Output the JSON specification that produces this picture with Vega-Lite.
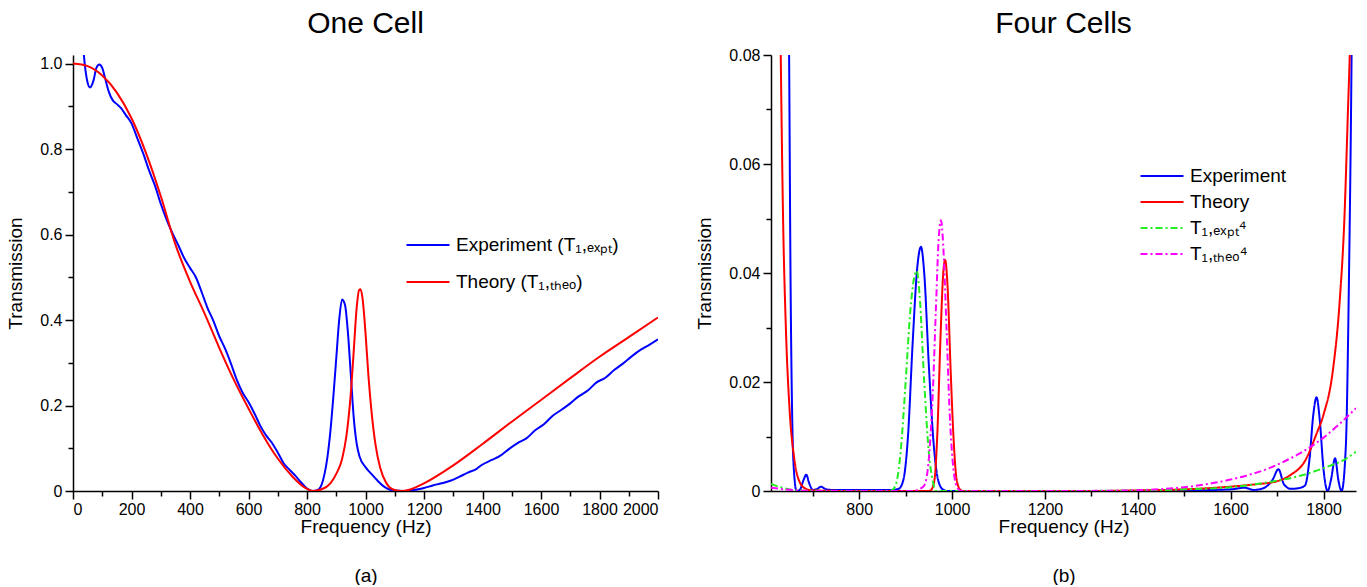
{
  "$schema": "https://vega.github.io/schema/vega-lite/v6.json",
  "padding": {"left": 6, "top": 9, "right": 5, "bottom": 0},
  "background": "white",
  "config": {
    "font": "Liberation Sans",
    "view": {"stroke": null},
    "axis": {
      "grid": false,
      "domainColor": "black",
      "domainWidth": 1.5,
      "tickColor": "black",
      "tickWidth": 1.5,
      "labelFont": "Liberation Sans",
      "labelFontSize": 16,
      "labelColor": "black",
      "labelOverlap": false,
      "titleFont": "Liberation Sans",
      "titleFontSize": 19,
      "titleFontWeight": "normal",
      "titleColor": "black"
    },
    "legend": {
      "labelFont": "Liberation Sans",
      "labelFontSize": 19,
      "labelColor": "black",
      "labelLimit": 400,
      "labelOffset": 16,
      "symbolType": "M-2,0H2",
      "symbolSize": 462,
      "symbolStrokeWidth": 2,
      "padding": 0
    },
    "title": {"font": "Liberation Sans", "fontSize": 30, "fontWeight": "normal", "color": "black", "anchor": "middle", "frame": "group"}
  },
  "datasets": {
    "left": [
      {"f":30,"T":1.08,"s":"E"},{"f":40,"T":1.0,"s":"E"},{"f":50,"T":0.955,"s":"E"},{"f":58,"T":0.944,"s":"E"},{"f":70,"T":0.96,"s":"E"},{"f":80,"T":0.99,"s":"E"},{"f":90,"T":0.998,"s":"E"},{"f":100,"T":0.99,"s":"E"},{"f":110,"T":0.965,"s":"E"},{"f":122,"T":0.935,"s":"E"},{"f":135,"T":0.915,"s":"E"},{"f":150,"T":0.905,"s":"E"},{"f":165,"T":0.895,"s":"E"},{"f":180,"T":0.88,"s":"E"},{"f":200,"T":0.86,"s":"E"},{"f":220,"T":0.825,"s":"E"},{"f":240,"T":0.79,"s":"E"},{"f":260,"T":0.75,"s":"E"},{"f":280,"T":0.715,"s":"E"},{"f":300,"T":0.672,"s":"E"},{"f":320,"T":0.635,"s":"E"},{"f":340,"T":0.603,"s":"E"},{"f":360,"T":0.575,"s":"E"},{"f":380,"T":0.545,"s":"E"},{"f":400,"T":0.522,"s":"E"},{"f":420,"T":0.5,"s":"E"},{"f":440,"T":0.465,"s":"E"},{"f":460,"T":0.428,"s":"E"},{"f":480,"T":0.398,"s":"E"},{"f":500,"T":0.362,"s":"E"},{"f":520,"T":0.333,"s":"E"},{"f":540,"T":0.298,"s":"E"},{"f":560,"T":0.26,"s":"E"},{"f":580,"T":0.23,"s":"E"},{"f":600,"T":0.208,"s":"E"},{"f":620,"T":0.182,"s":"E"},{"f":640,"T":0.153,"s":"E"},{"f":660,"T":0.13,"s":"E"},{"f":680,"T":0.113,"s":"E"},{"f":700,"T":0.09,"s":"E"},{"f":720,"T":0.065,"s":"E"},{"f":740,"T":0.05,"s":"E"},{"f":760,"T":0.036,"s":"E"},{"f":780,"T":0.02,"s":"E"},{"f":800,"T":0.006,"s":"E"},{"f":820,"T":0.0,"s":"E"},{"f":840,"T":0.004,"s":"E"},{"f":850,"T":0.015,"s":"E"},{"f":860,"T":0.04,"s":"E"},{"f":870,"T":0.08,"s":"E"},{"f":880,"T":0.14,"s":"E"},{"f":890,"T":0.22,"s":"E"},{"f":900,"T":0.31,"s":"E"},{"f":910,"T":0.4,"s":"E"},{"f":920,"T":0.448,"s":"E"},{"f":930,"T":0.435,"s":"E"},{"f":940,"T":0.37,"s":"E"},{"f":950,"T":0.27,"s":"E"},{"f":960,"T":0.17,"s":"E"},{"f":970,"T":0.11,"s":"E"},{"f":980,"T":0.08,"s":"E"},{"f":1000,"T":0.056,"s":"E"},{"f":1020,"T":0.04,"s":"E"},{"f":1040,"T":0.025,"s":"E"},{"f":1060,"T":0.012,"s":"E"},{"f":1080,"T":0.004,"s":"E"},{"f":1100,"T":0.001,"s":"E"},{"f":1130,"T":0.0,"s":"E"},{"f":1150,"T":0.001,"s":"E"},{"f":1180,"T":0.004,"s":"E"},{"f":1200,"T":0.007,"s":"E"},{"f":1230,"T":0.013,"s":"E"},{"f":1260,"T":0.018,"s":"E"},{"f":1290,"T":0.024,"s":"E"},{"f":1320,"T":0.033,"s":"E"},{"f":1350,"T":0.043,"s":"E"},{"f":1380,"T":0.052,"s":"E"},{"f":1400,"T":0.062,"s":"E"},{"f":1430,"T":0.072,"s":"E"},{"f":1460,"T":0.082,"s":"E"},{"f":1490,"T":0.098,"s":"E"},{"f":1520,"T":0.112,"s":"E"},{"f":1550,"T":0.123,"s":"E"},{"f":1580,"T":0.142,"s":"E"},{"f":1610,"T":0.156,"s":"E"},{"f":1640,"T":0.176,"s":"E"},{"f":1670,"T":0.19,"s":"E"},{"f":1700,"T":0.205,"s":"E"},{"f":1730,"T":0.222,"s":"E"},{"f":1760,"T":0.235,"s":"E"},{"f":1790,"T":0.254,"s":"E"},{"f":1820,"T":0.265,"s":"E"},{"f":1850,"T":0.283,"s":"E"},{"f":1880,"T":0.298,"s":"E"},{"f":1910,"T":0.315,"s":"E"},{"f":1940,"T":0.33,"s":"E"},{"f":1970,"T":0.342,"s":"E"},{"f":2000,"T":0.355,"s":"E"},
      {"f":0,"T":1.0,"s":"T"},{"f":50,"T":0.994,"s":"T"},{"f":100,"T":0.972,"s":"T"},{"f":150,"T":0.932,"s":"T"},{"f":200,"T":0.872,"s":"T"},{"f":250,"T":0.79,"s":"T"},{"f":300,"T":0.69,"s":"T"},{"f":350,"T":0.577,"s":"T"},{"f":400,"T":0.49,"s":"T"},{"f":450,"T":0.415,"s":"T"},{"f":500,"T":0.335,"s":"T"},{"f":550,"T":0.26,"s":"T"},{"f":600,"T":0.193,"s":"T"},{"f":650,"T":0.13,"s":"T"},{"f":700,"T":0.076,"s":"T"},{"f":750,"T":0.034,"s":"T"},{"f":790,"T":0.009,"s":"T"},{"f":820,"T":0.0,"s":"T"},{"f":850,"T":0.004,"s":"T"},{"f":880,"T":0.018,"s":"T"},{"f":900,"T":0.04,"s":"T"},{"f":920,"T":0.075,"s":"T"},{"f":935,"T":0.13,"s":"T"},{"f":950,"T":0.23,"s":"T"},{"f":960,"T":0.33,"s":"T"},{"f":970,"T":0.43,"s":"T"},{"f":978,"T":0.47,"s":"T"},{"f":983,"T":0.472,"s":"T"},{"f":990,"T":0.45,"s":"T"},{"f":1000,"T":0.37,"s":"T"},{"f":1010,"T":0.27,"s":"T"},{"f":1020,"T":0.19,"s":"T"},{"f":1035,"T":0.105,"s":"T"},{"f":1050,"T":0.055,"s":"T"},{"f":1070,"T":0.02,"s":"T"},{"f":1090,"T":0.005,"s":"T"},{"f":1120,"T":0.0,"s":"T"},{"f":1150,"T":0.003,"s":"T"},{"f":1200,"T":0.018,"s":"T"},{"f":1300,"T":0.06,"s":"T"},{"f":1400,"T":0.11,"s":"T"},{"f":1500,"T":0.162,"s":"T"},{"f":1600,"T":0.213,"s":"T"},{"f":1700,"T":0.264,"s":"T"},{"f":1800,"T":0.314,"s":"T"},{"f":1900,"T":0.36,"s":"T"},{"f":2000,"T":0.406,"s":"T"}
    ],
    "right": [
      {"f":645,"T":0.12,"s":"E"},{"f":649,"T":0.08,"s":"E"},{"f":652,"T":0.04,"s":"E"},{"f":656,"T":0.012,"s":"E"},{"f":660,"T":0.003,"s":"E"},{"f":665,"T":0.0,"s":"E"},{"f":672,"T":0.0002,"s":"E"},{"f":680,"T":0.002,"s":"E"},{"f":686,"T":0.003,"s":"E"},{"f":692,"T":0.0015,"s":"E"},{"f":700,"T":0.0002,"s":"E"},{"f":710,"T":0.0004,"s":"E"},{"f":718,"T":0.0008,"s":"E"},{"f":726,"T":0.0004,"s":"E"},{"f":740,"T":0.0002,"s":"E"},{"f":800,"T":0.0002,"s":"E"},{"f":870,"T":0.0002,"s":"E"},{"f":885,"T":0.0004,"s":"E"},{"f":895,"T":0.002,"s":"E"},{"f":905,"T":0.01,"s":"E"},{"f":915,"T":0.027,"s":"E"},{"f":925,"T":0.041,"s":"E"},{"f":933,"T":0.0448,"s":"E"},{"f":940,"T":0.04,"s":"E"},{"f":950,"T":0.023,"s":"E"},{"f":960,"T":0.009,"s":"E"},{"f":970,"T":0.002,"s":"E"},{"f":980,"T":0.0003,"s":"E"},{"f":990,"T":0.0,"s":"E"},{"f":1300,"T":0.0,"s":"E"},{"f":1500,"T":0.0001,"s":"E"},{"f":1600,"T":0.0003,"s":"E"},{"f":1630,"T":0.0006,"s":"E"},{"f":1650,"T":0.0002,"s":"E"},{"f":1670,"T":0.0005,"s":"E"},{"f":1690,"T":0.002,"s":"E"},{"f":1703,"T":0.004,"s":"E"},{"f":1715,"T":0.0012,"s":"E"},{"f":1730,"T":0.0004,"s":"E"},{"f":1745,"T":0.0005,"s":"E"},{"f":1760,"T":0.001,"s":"E"},{"f":1770,"T":0.006,"s":"E"},{"f":1778,"T":0.014,"s":"E"},{"f":1785,"T":0.0172,"s":"E"},{"f":1792,"T":0.013,"s":"E"},{"f":1800,"T":0.004,"s":"E"},{"f":1809,"T":0.0,"s":"E"},{"f":1816,"T":0.002,"s":"E"},{"f":1825,"T":0.006,"s":"E"},{"f":1832,"T":0.002,"s":"E"},{"f":1839,"T":0.0,"s":"E"},{"f":1848,"T":0.008,"s":"E"},{"f":1855,"T":0.04,"s":"E"},{"f":1861,"T":0.085,"s":"E"},{"f":1864,"T":0.12,"s":"E"},
      {"f":626,"T":0.12,"s":"T"},{"f":631,"T":0.08,"s":"T"},{"f":636,"T":0.05,"s":"T"},{"f":642,"T":0.03,"s":"T"},{"f":650,"T":0.015,"s":"T"},{"f":660,"T":0.006,"s":"T"},{"f":670,"T":0.002,"s":"T"},{"f":685,"T":0.0004,"s":"T"},{"f":700,"T":0.0001,"s":"T"},{"f":800,"T":0.0,"s":"T"},{"f":950,"T":0.0,"s":"T"},{"f":955,"T":0.0002,"s":"T"},{"f":962,"T":0.002,"s":"T"},{"f":968,"T":0.01,"s":"T"},{"f":975,"T":0.028,"s":"T"},{"f":981,"T":0.04,"s":"T"},{"f":985,"T":0.0424,"s":"T"},{"f":990,"T":0.038,"s":"T"},{"f":997,"T":0.022,"s":"T"},{"f":1003,"T":0.01,"s":"T"},{"f":1010,"T":0.002,"s":"T"},{"f":1018,"T":0.0002,"s":"T"},{"f":1025,"T":0.0,"s":"T"},{"f":1300,"T":0.0,"s":"T"},{"f":1400,"T":0.0001,"s":"T"},{"f":1500,"T":0.0003,"s":"T"},{"f":1600,"T":0.0008,"s":"T"},{"f":1650,"T":0.0012,"s":"T"},{"f":1700,"T":0.0018,"s":"T"},{"f":1730,"T":0.003,"s":"T"},{"f":1760,"T":0.0055,"s":"T"},{"f":1785,"T":0.0105,"s":"T"},{"f":1800,"T":0.014,"s":"T"},{"f":1820,"T":0.022,"s":"T"},{"f":1835,"T":0.035,"s":"T"},{"f":1845,"T":0.05,"s":"T"},{"f":1852,"T":0.068,"s":"T"},{"f":1858,"T":0.085,"s":"T"},{"f":1865,"T":0.12,"s":"T"},
      {"f":610,"T":0.0013,"s":"GE"},{"f":630,"T":0.0007,"s":"GE"},{"f":650,"T":0.0003,"s":"GE"},{"f":670,"T":0.0001,"s":"GE"},{"f":700,"T":0.00003,"s":"GE"},{"f":750,"T":0.0,"s":"GE"},{"f":860,"T":0.0,"s":"GE"},{"f":870,"T":0.0001,"s":"GE"},{"f":880,"T":0.0015,"s":"GE"},{"f":890,"T":0.008,"s":"GE"},{"f":900,"T":0.02,"s":"GE"},{"f":910,"T":0.033,"s":"GE"},{"f":918,"T":0.039,"s":"GE"},{"f":924,"T":0.0404,"s":"GE"},{"f":930,"T":0.036,"s":"GE"},{"f":940,"T":0.02,"s":"GE"},{"f":950,"T":0.007,"s":"GE"},{"f":958,"T":0.002,"s":"GE"},{"f":966,"T":0.0,"s":"GE"},{"f":1200,"T":0.0,"s":"GE"},{"f":1300,"T":0.00002,"s":"GE"},{"f":1400,"T":0.0001,"s":"GE"},{"f":1500,"T":0.0003,"s":"GE"},{"f":1600,"T":0.0007,"s":"GE"},{"f":1700,"T":0.0019,"s":"GE"},{"f":1750,"T":0.0028,"s":"GE"},{"f":1800,"T":0.0042,"s":"GE"},{"f":1850,"T":0.006,"s":"GE"},{"f":1870,"T":0.0072,"s":"GE"},
      {"f":610,"T":0.0006,"s":"GT"},{"f":640,"T":0.0003,"s":"GT"},{"f":670,"T":0.0001,"s":"GT"},{"f":700,"T":0.00002,"s":"GT"},{"f":750,"T":0.0,"s":"GT"},{"f":920,"T":0.0,"s":"GT"},{"f":925,"T":0.0002,"s":"GT"},{"f":940,"T":0.001,"s":"GT"},{"f":950,"T":0.006,"s":"GT"},{"f":958,"T":0.017,"s":"GT"},{"f":965,"T":0.033,"s":"GT"},{"f":971,"T":0.046,"s":"GT"},{"f":976,"T":0.0497,"s":"GT"},{"f":981,"T":0.045,"s":"GT"},{"f":988,"T":0.03,"s":"GT"},{"f":995,"T":0.014,"s":"GT"},{"f":1003,"T":0.004,"s":"GT"},{"f":1012,"T":0.0005,"s":"GT"},{"f":1020,"T":0.0,"s":"GT"},{"f":1250,"T":0.0,"s":"GT"},{"f":1300,"T":0.00002,"s":"GT"},{"f":1400,"T":0.00015,"s":"GT"},{"f":1500,"T":0.0007,"s":"GT"},{"f":1600,"T":0.0021,"s":"GT"},{"f":1700,"T":0.0048,"s":"GT"},{"f":1800,"T":0.0098,"s":"GT"},{"f":1870,"T":0.0152,"s":"GT"}
    ]
  },
  "hconcat": [
    {
      "width": 585,
      "height": 436,
      "title": {"text": "One Cell", "offset": 16},
      "data": {"name": "left"},
      "mark": {"type": "line", "clip": true, "strokeWidth": 2, "interpolate": "monotone"},
      "encoding": {
        "x": {
          "field": "f", "type": "quantitative",
          "scale": {"domain": [0, 2000], "nice": false, "zero": false},
          "axis": {
            "values": [0,100,200,300,400,500,600,700,800,900,1000,1100,1200,1300,1400,1500,1600,1700,1800,1900,2000],
            "format": "d",
            "labelExpr": "datum.value % 200 == 0 ? datum.label : ''",
            "tickSize": {"condition": {"test": "datum.value % 200 == 0", "value": 8}, "value": 5},
            "labelPadding": 2,
            "title": ["Frequency (Hz)", "(a)"],
            "titleLineHeight": 49,
            "titlePadding": 0
          }
        },
        "y": {
          "field": "T", "type": "quantitative",
          "scale": {"domain": [0, 1.02], "nice": false},
          "axis": {
            "values": [0,0.1,0.2,0.3,0.4,0.5,0.6,0.7,0.8,0.9,1.0],
            "labelExpr": "round(datum.value*10) % 2 == 0 ? (datum.value == 0 ? '0' : format(datum.value, '.1f')) : ''",
            "tickSize": {"condition": {"test": "round(datum.value*10) % 2 == 0", "value": 8}, "value": 5},
            "labelPadding": 3,
            "title": "Transmission",
            "titlePadding": 14
          }
        },
        "color": {
          "field": "s", "type": "nominal",
          "scale": {"domain": ["E", "T"], "range": ["#0000ff", "#ff0000"]},
          "legend": {
            "title": null,
            "orient": "none",
            "legendX": 343,
            "legendY": 178,
            "rowPadding": 15,
            "labelExpr": "datum.label == 'E' ? 'Experiment (T₁,ₑₓₚₜ)' : 'Theory (T₁,ₜₕₑₒ)'"
          }
        }
      }
    },
    {
      "width": 585,
      "height": 436,
      "title": {"text": "Four Cells", "offset": 8},
      "data": {"name": "right"},
      "mark": {"type": "line", "clip": true, "strokeWidth": 2, "interpolate": "monotone"},
      "encoding": {
        "x": {
          "field": "f", "type": "quantitative",
          "scale": {"domain": [610, 1870], "nice": false, "zero": false},
          "axis": {
            "values": [700,800,900,1000,1100,1200,1300,1400,1500,1600,1700,1800],
            "format": "d",
            "labelExpr": "datum.value % 200 == 0 ? datum.label : ''",
            "tickSize": {"condition": {"test": "datum.value % 200 == 0", "value": 8}, "value": 5},
            "labelPadding": 2,
            "title": ["Frequency (Hz)", "(b)"],
            "titleLineHeight": 49,
            "titlePadding": 0
          }
        },
        "y": {
          "field": "T", "type": "quantitative",
          "scale": {"domain": [0, 0.08], "nice": false},
          "axis": {
            "values": [0,0.01,0.02,0.03,0.04,0.05,0.06,0.07,0.08],
            "labelExpr": "round(datum.value*100) % 2 == 0 ? (datum.value == 0 ? '0' : format(datum.value, '.2f')) : ''",
            "tickSize": {"condition": {"test": "round(datum.value*100) % 2 == 0", "value": 8}, "value": 5},
            "labelPadding": 3,
            "title": "Transmission",
            "titlePadding": 14
          }
        },
        "color": {
          "field": "s", "type": "nominal",
          "scale": {"domain": ["E", "T", "GE", "GT"], "range": ["#0000ff", "#ff0000", "#22ee22", "#ff00ff"]},
          "legend": {
            "title": null,
            "orient": "none",
            "legendX": 379,
            "legendY": 109,
            "rowPadding": 4,
            "labelExpr": "datum.label == 'E' ? 'Experiment' : datum.label == 'T' ? 'Theory' : datum.label == 'GE' ? 'T₁,ₑₓₚₜ⁴' : 'T₁,ₜₕₑₒ⁴'"
          }
        },
        "strokeDash": {
          "field": "s", "type": "nominal",
          "scale": {"domain": ["E", "T", "GE", "GT"], "range": [[1, 0], [1, 0], [7, 3, 2, 3], [7, 3, 2, 3]]},
          "legend": {
            "title": null,
            "orient": "none",
            "legendX": 379,
            "legendY": 109,
            "rowPadding": 4,
            "labelExpr": "datum.label == 'E' ? 'Experiment' : datum.label == 'T' ? 'Theory' : datum.label == 'GE' ? 'T₁,ₑₓₚₜ⁴' : 'T₁,ₜₕₑₒ⁴'"
          }
        }
      }
    }
  ],
  "spacing": 36,
  "resolve": {
    "scale": {"color": "independent", "strokeDash": "independent"},
    "legend": {"color": "independent", "strokeDash": "independent"}
  }
}
